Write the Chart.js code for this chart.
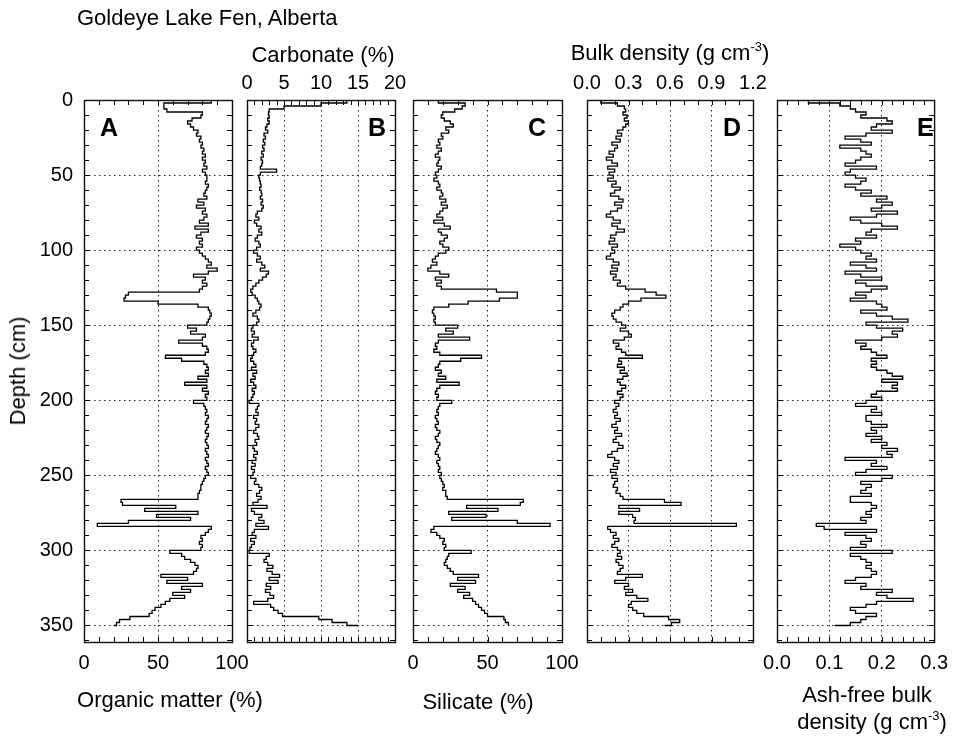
<!DOCTYPE html>
<html>
<head>
<meta charset="utf-8">
<title>Goldeye Lake Fen, Alberta</title>
<script src="https://cdn.jsdelivr.net/npm/chart.js@4.4.0/dist/chart.umd.min.js"></script>
<style>
  html, body { margin: 0; padding: 0; background: #fff; }
  #wrap { position: relative; width: 957px; height: 738px; overflow: hidden;
          font-family: "Liberation Sans", Arial, sans-serif; color: #000; }
  #wrap canvas { position: absolute; left: 0; top: 0; }
  .lbl { position: absolute; white-space: nowrap; line-height: 1; font-size: 22px;
         transform: translate(-50%, -50%); }
  .lbl sup { font-size: 13px; vertical-align: baseline; position: relative; top: -9px; }
  .letter { position: absolute; font-weight: bold; font-size: 25px; line-height: 1; }
</style>
</head>
<body>
<div id="wrap">
  <canvas id="panelA" width="957" height="738"></canvas>
  <canvas id="panelB" width="957" height="738"></canvas>
  <canvas id="panelC" width="957" height="738"></canvas>
  <canvas id="panelD" width="957" height="738"></canvas>
  <canvas id="panelE" width="957" height="738"></canvas>

  <div class="lbl" style="left:77px; top:7px; transform:none">Goldeye Lake Fen, Alberta</div>
  <div class="lbl" style="left:323px; top:55px">Carbonate (%)</div>
  <div class="lbl" style="left:670px; top:53px">Bulk density (g cm<sup>-3</sup>)</div>
  <div class="lbl" style="left:18px; top:371px; transform:translate(-50%, -50%) rotate(-90deg)">Depth (cm)</div>
  <div class="lbl" style="left:170px; top:700px">Organic matter (%)</div>
  <div class="lbl" style="left:478px; top:702px">Silicate (%)</div>
  <div class="lbl" style="left:867px; top:695px">Ash-free bulk</div>
  <div class="lbl" style="left:872px; top:722px">density (g cm<sup>-3</sup>)</div>

  <div class="letter" style="left:100px; top:115px">A</div>
  <div class="letter" style="left:368px; top:115px">B</div>
  <div class="letter" style="left:528px; top:115px">C</div>
  <div class="letter" style="left:723px; top:115px">D</div>
  <div class="letter" style="left:917px; top:115px">E</div>
</div>

<script>
// sample depths (cm)
var depth = [
  0, 2, 4, 6, 8, 10, 12, 14, 16, 18,
  20, 22, 24, 26, 28, 30, 32, 34, 36, 38,
  40, 42, 44, 46, 48, 50, 52, 54, 56, 58,
  60, 62, 64, 66, 68, 70, 72, 74, 76, 78,
  80, 82, 84, 86, 88, 90, 92, 94, 96, 98,
  100, 102, 104, 106, 108, 110, 112, 114, 116, 118,
  120, 122, 124, 126, 128, 130, 132, 134, 136, 138,
  140, 142, 144, 146, 148, 150, 152, 154, 156, 158,
  160, 162, 164, 166, 168, 170, 172, 174, 176, 178,
  180, 182, 184, 186, 188, 190, 192, 194, 196, 198,
  200, 202, 204, 206, 208, 210, 212, 214, 216, 218,
  220, 222, 224, 226, 228, 230, 232, 234, 236, 238,
  240, 242, 244, 246, 248, 250, 252, 254, 256, 258,
  260, 262, 264, 266, 268, 270, 272, 274, 276, 278,
  280, 282, 284, 286, 288, 290, 292, 294, 296, 298,
  300, 302, 304, 306, 308, 310, 312, 314, 316, 318,
  320, 322, 324, 326, 328, 330, 332, 334, 336, 338,
  340, 342, 344, 346, 348, 350
];

// A - organic matter (%)
var organic = [
  86, 54, 54, 56, 80, 79, 73, 70, 72, 74,
  77, 76, 79, 78, 80, 79, 81, 80, 82, 80,
  82, 81, 83, 80, 82, 83, 83, 82, 84, 83,
  82, 81, 83, 77, 81, 76, 82, 80, 83, 81,
  78, 84, 75, 84, 79, 76, 80, 78, 80, 76,
  78, 80, 82, 84, 86, 83, 90, 84, 74, 82,
  80, 83, 80, 78, 30, 28, 27, 50, 77, 84,
  85, 86, 85, 84, 83, 70, 76, 72, 82, 80,
  64, 80, 83, 84, 82, 55, 66, 81, 83, 84,
  82, 84, 77, 83, 68, 83, 80, 84, 82, 83,
  74, 81, 82, 83, 82, 84, 83, 82, 84, 83,
  82, 84, 83, 82, 83, 84, 82, 83, 84, 82,
  83, 84, 82, 83, 84, 82, 81, 80, 79, 79,
  78, 77, 77, 25, 26, 62, 41, 77, 49, 72,
  30, 9, 86, 84, 82, 79, 80, 78, 80, 79,
  58, 66, 68, 72, 75, 77, 76, 74, 52, 70,
  56, 80, 66, 72, 60, 68, 58, 55, 52, 48,
  46, 44, 31, 24, 22, 20
];

// B - carbonate (%)
var carbonate = [
  13.5, 10, 5, 3, 2.9, 3, 2.8, 3, 2.7, 2.5,
  2.8, 2.3, 2.5, 2.2, 2.4, 2.1, 2.3, 2, 2.2, 1.9,
  2.1, 2, 1.8, 4, 1.8, 1.6, 1.7, 1.8, 1.9, 1.7,
  1.9, 2, 1.8, 2.1, 1.9, 2.2, 2, 1.4, 1.2, 1.6,
  1, 1.3, 1.9, 1.6, 2, 1.4, 1.1, 1.6, 1.8, 1.3,
  0.9, 1.4, 1.8, 1.3, 2, 2.4, 1.8, 2.9, 2.6, 2.1,
  1.6, 1.2, 0.8, 0.5, 0.7, 1.1, 1.4, 1.6, 1.9, 1.7,
  1.2, 0.8, 1.4, 1.6, 1.3, 0.8, 0.6, 1, 0.7, 1.5,
  0.9, 0.6, 0.8, 1.2, 0.9, 0.7, 0.5, 0.9, 1.2, 0.6,
  1.3, 0.8, 1.1, 0.5, 0.9, 1.2, 0.7, 1, 0.8, 0.6,
  0.3, 1.6, 1.4, 1.2, 1.5, 0.9, 1.3, 1.1, 1.6, 1.2,
  0.9, 1.4, 1.6, 1.1, 1.3, 0.8, 1, 1.4, 0.9, 1.2,
  0.7, 1.1, 0.6, 1, 0.8, 0.5, 1.2, 1, 1.6, 2,
  1.7, 1.3, 1.9, 1.5, 0.8, 2.7, 0.6, 1, 2, 1.6,
  2.3, 1.2, 2.9, 1, 0.7, 1.2, 0.5, 1, 0.6, 0.4,
  0.3, 3, 2.6, 2.3, 2.8, 3.5, 2.7, 3.4, 4.4, 3,
  4.2, 2.6, 3.2, 2.5, 3.1, 3.6, 2.8, 0.9, 3.2, 3.6,
  4.2, 4.8, 9.7, 11.5, 13.5, 15
];

// C - silicate (%)
var silicate = [
  17, 35, 33, 28, 20, 19, 21, 25, 27, 22,
  24, 19, 20, 17, 18, 16, 19, 17, 15, 18,
  17, 16, 19, 17, 15, 16, 14, 17, 18, 16,
  19, 20, 18, 22, 19, 23, 20, 18, 16, 20,
  14, 21, 25, 17, 19, 23, 21, 18, 20, 24,
  22, 17, 15, 13, 16, 12, 10, 18, 24, 15,
  19, 16, 19, 56, 70, 70, 58, 37, 24, 14,
  13, 14, 15, 14, 15, 30, 22, 27, 17, 38,
  17, 15, 16, 14, 18, 46, 32, 18, 17, 15,
  19, 17, 22, 16, 31, 18, 16, 15, 17, 16,
  26, 18, 17, 16, 17, 15, 16, 17, 15, 16,
  18, 17, 15, 16, 18, 17, 16, 15, 17, 18,
  16, 17, 18, 17, 19, 18, 19, 20, 21, 20,
  22, 22, 23, 74, 72, 36, 57, 24, 49, 26,
  70, 92, 14, 12, 16, 18, 21, 20, 22, 21,
  39, 24, 23, 22, 21, 23, 25, 27, 44, 30,
  42, 25, 35, 30, 38, 34, 40, 42, 44, 46,
  48, 50, 61, 62, 64, 64
];

// D - bulk density (g cm-3)
var bulkDensity = [
  0.10, 0.22, 0.27, 0.28, 0.26, 0.29, 0.27, 0.30, 0.28, 0.26,
  0.22, 0.25, 0.21, 0.24, 0.18, 0.22, 0.20, 0.16, 0.19, 0.14,
  0.18, 0.22, 0.15, 0.20, 0.16, 0.19, 0.15, 0.21, 0.18, 0.24,
  0.20, 0.17, 0.23, 0.26, 0.20, 0.25, 0.22, 0.17, 0.14, 0.19,
  0.24, 0.18, 0.22, 0.27, 0.21, 0.17, 0.20, 0.16, 0.22, 0.18,
  0.20, 0.17, 0.14, 0.19, 0.23, 0.18, 0.22, 0.17, 0.21, 0.19,
  0.24, 0.22, 0.28, 0.42, 0.50, 0.57, 0.39, 0.30, 0.26, 0.24,
  0.20, 0.18, 0.19, 0.21, 0.25, 0.28, 0.24, 0.30, 0.32, 0.27,
  0.19, 0.23, 0.21, 0.25, 0.28, 0.40, 0.23, 0.25, 0.22, 0.27,
  0.24, 0.29, 0.26, 0.22, 0.24, 0.28, 0.25, 0.22, 0.26, 0.24,
  0.20, 0.23, 0.21, 0.19, 0.22, 0.20, 0.24, 0.21, 0.18, 0.22,
  0.20, 0.25, 0.21, 0.19, 0.23, 0.26, 0.22, 0.18, 0.15, 0.20,
  0.23, 0.19, 0.22, 0.17, 0.21, 0.18, 0.22, 0.20, 0.19, 0.22,
  0.21, 0.24, 0.26, 0.56, 0.68, 0.23, 0.38, 0.23, 0.33, 0.35,
  0.34, 1.08, 0.15, 0.17, 0.21, 0.19, 0.23, 0.20, 0.18, 0.22,
  0.24, 0.22, 0.25, 0.21, 0.23, 0.26, 0.24, 0.22, 0.40, 0.28,
  0.20, 0.30, 0.27, 0.33, 0.28, 0.36, 0.44, 0.32, 0.30, 0.33,
  0.36, 0.41, 0.59, 0.67, 0.61, 0.56
];

// E - ash-free bulk density (g cm-3)
var ashFree = [
  0.06, 0.12, 0.14, 0.15, 0.17, 0.16, 0.21, 0.22, 0.19, 0.18,
  0.22, 0.17, 0.13, 0.16, 0.18, 0.12, 0.16, 0.17, 0.18, 0.16,
  0.15, 0.13, 0.19, 0.14, 0.13, 0.15, 0.17, 0.16, 0.13, 0.15,
  0.18, 0.16, 0.21, 0.19, 0.22, 0.20, 0.18, 0.23, 0.19, 0.14,
  0.16, 0.20, 0.23, 0.18, 0.17, 0.19, 0.15, 0.16, 0.12, 0.15,
  0.16, 0.18, 0.17, 0.19, 0.14, 0.17, 0.19, 0.13, 0.16, 0.20,
  0.15, 0.17, 0.21, 0.18, 0.15, 0.17, 0.14, 0.19, 0.20, 0.21,
  0.16, 0.19, 0.22, 0.25, 0.17, 0.19, 0.24, 0.22, 0.23, 0.20,
  0.15, 0.17, 0.16, 0.18, 0.19, 0.21, 0.18, 0.19, 0.18, 0.19,
  0.21, 0.22, 0.24, 0.20, 0.23, 0.22, 0.23, 0.19, 0.18, 0.20,
  0.17, 0.15, 0.19, 0.18, 0.20, 0.17, 0.17, 0.18, 0.21, 0.18,
  0.19, 0.17, 0.20, 0.18, 0.21, 0.20, 0.23, 0.21, 0.22, 0.13,
  0.19, 0.18, 0.21, 0.17, 0.15, 0.22, 0.20, 0.16, 0.18, 0.17,
  0.16, 0.18, 0.14, 0.14, 0.18, 0.19, 0.18, 0.17, 0.18, 0.16,
  0.17, 0.075, 0.09, 0.19, 0.13, 0.17, 0.18, 0.16, 0.17, 0.14,
  0.22, 0.14, 0.16, 0.17, 0.18, 0.17, 0.18, 0.19, 0.18, 0.15,
  0.13, 0.17, 0.16, 0.22, 0.19, 0.21, 0.26, 0.19, 0.17, 0.14,
  0.15, 0.19, 0.17, 0.16, 0.14, 0.11
];

// depth axis: 0-361 cm, labels every 50
var depthMax = 361;
var depthStep = 50;
var depthMinor = 10;

var tickFont = { family: 'Liberation Sans', size: 20 };

// box round the plot area plus inward minor ticks on all four sides
var frame = {
  id: 'frame',
  afterDraw: function (chart, args, opts) {
    var c = chart.ctx, a = chart.chartArea;
    var xs = chart.scales.x, ys = chart.scales.y;
    var i, v, p;
    c.save();
    c.strokeStyle = '#000';
    c.lineWidth = 1;
    c.beginPath();
    for (i = 0; ; i++) {
      v = xs.min + i * opts.xMinor;
      if (v > xs.max + 1e-9) break;
      p = Math.round(xs.getPixelForValue(v)) + 0.5;
      c.moveTo(p, a.top); c.lineTo(p, a.top + 5);
      c.moveTo(p, a.bottom); c.lineTo(p, a.bottom - 5);
    }
    for (i = 0; ; i++) {
      v = ys.min + i * opts.yMinor;
      if (v > ys.max + 1e-9) break;
      p = Math.round(ys.getPixelForValue(v)) + 0.5;
      c.moveTo(a.left, p); c.lineTo(a.left + 5, p);
      c.moveTo(a.right, p); c.lineTo(a.right - 5, p);
    }
    c.stroke();
    c.lineWidth = 1.4;
    c.strokeStyle = '#111';
    c.strokeRect(a.left + 0.5, a.top + 0.5, a.right - a.left, a.bottom - a.top);
    c.restore();
  }
};

function makePanel(id, values, p) {
  var ctx = document.getElementById(id).getContext('2d');
  var top = p.xPos === 'top';
  return new Chart(ctx, {
    type: 'scatter',
    data: {
      datasets: [{
        data: depth.map(function (d, i) { return { x: values[i], y: d }; }),
        showLine: true,
        stepped: 'after',
        borderColor: '#000',
        borderWidth: 1.3,
        pointRadius: 0,
        fill: false
      }]
    },
    options: {
      responsive: false,
      animation: false,
      events: [],
      layout: {
        padding: { left: p.left - (p.showDepth ? 84 : 0), right: 957 - p.right, top: top ? 0 : 100, bottom: top ? 96 : 0 }
      },
      plugins: {
        legend: { display: false },
        tooltip: { enabled: false },
        frame: { xMinor: p.minor, yMinor: depthMinor }
      },
      scales: {
        x: {
          type: 'linear',
          position: p.xPos,
          min: p.min,
          max: p.max,
          afterFit: function (s) { s.height = top ? 100 : 96; },
          ticks: {
            stepSize: p.step,
            includeBounds: false,
            autoSkip: false,
            maxRotation: 0,
            padding: top ? 5 : 9,
            color: '#000',
            font: tickFont,
            callback: p.fmt
          },
          grid: { drawTicks: false, color: '#222', lineWidth: 1 },
          border: { display: false, dash: [1.5, 3.5] }
        },
        y: {
          type: 'linear',
          reverse: true,
          min: 0,
          max: depthMax,
          afterFit: function (s) { s.width = p.showDepth ? 84 : 0; },
          ticks: {
            stepSize: depthStep,
            includeBounds: false,
            display: !!p.showDepth,
            padding: 11,
            color: '#000',
            font: tickFont
          },
          grid: { drawTicks: false, color: '#222', lineWidth: 1 },
          border: { display: false, dash: [1.5, 3.5] }
        }
      }
    },
    plugins: [frame]
  });
}

function oneDecimal(v) { return v.toFixed(1); }
function whole(v) { return String(Math.round(v)); }

var chartA = makePanel('panelA', organic,     { left: 84,  right: 232, xPos: 'bottom', min: 0, max: 100, step: 50,  minor: 10,   fmt: whole, showDepth: true });
var chartB = makePanel('panelB', carbonate,   { left: 247, right: 395, xPos: 'top',    min: 0, max: 20,  step: 5,   minor: 1,    fmt: whole });
var chartC = makePanel('panelC', silicate,    { left: 413, right: 562, xPos: 'bottom', min: 0, max: 100, step: 50,  minor: 10,   fmt: whole });
var chartD = makePanel('panelD', bulkDensity, { left: 587, right: 753, xPos: 'top',    min: 0, max: 1.2, step: 0.3, minor: 0.1,  fmt: oneDecimal });
var chartE = makePanel('panelE', ashFree,     { left: 777, right: 942, xPos: 'bottom', min: 0, max: 0.3, step: 0.1, minor: 0.02, fmt: oneDecimal });
</script>
</body>
</html>
